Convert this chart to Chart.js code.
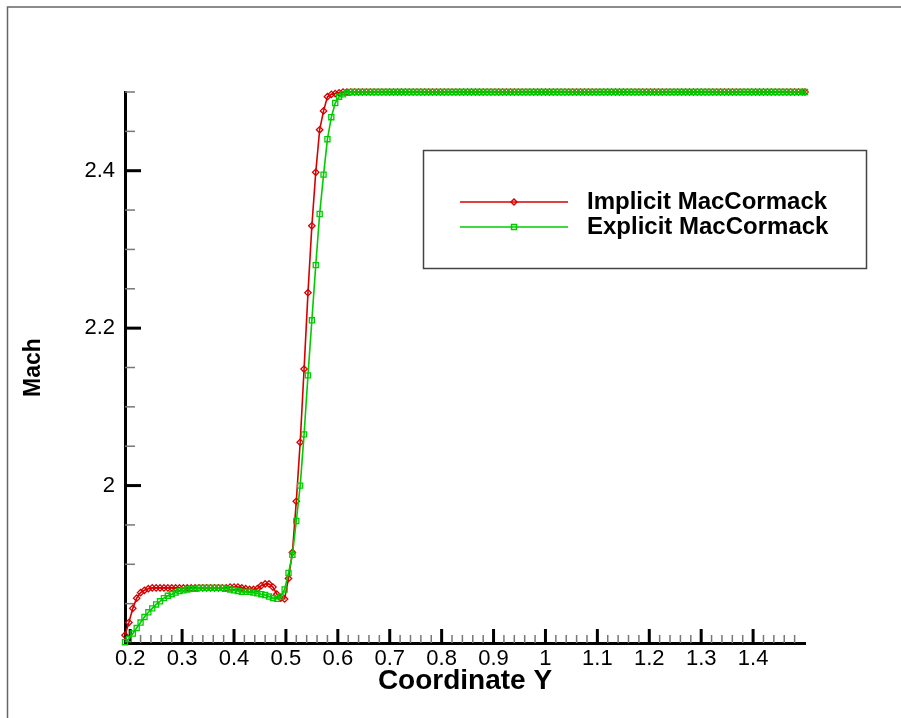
<!DOCTYPE html>
<html>
<head>
<meta charset="utf-8">
<script src="https://cdn.jsdelivr.net/npm/chart.js@4/dist/chart.umd.min.js"></script>
<style>
  body { margin: 0; background: #fff; }
  canvas { display: block; }
</style>
</head>
<body>
<canvas id="graphique-mach" width="901" height="718"></canvas>
<script>
// Abscisses (Coordinate Y), un point toutes les 0.0075 environ
const coordY = [
  0.19, 0.1975, 0.205, 0.2125,
  0.22, 0.2275, 0.235, 0.2425,
  0.25, 0.2575, 0.265, 0.2725,
  0.28, 0.2875, 0.295, 0.3025,
  0.31, 0.3175, 0.325, 0.3325,
  0.34, 0.3475, 0.355, 0.3625,
  0.37, 0.3775, 0.385, 0.3925,
  0.40, 0.4075, 0.415, 0.4225,
  0.43, 0.4375, 0.445, 0.4525,
  0.46, 0.4675, 0.475, 0.4825,
  0.49, 0.4975, 0.505, 0.5125,
  0.52, 0.5275, 0.535, 0.5425,
  0.55, 0.5575, 0.565, 0.5725,
  0.58, 0.5875, 0.595, 0.6025,
  0.61, 0.6175, 0.625, 0.6325,
  0.64, 0.6475, 0.655, 0.6625,
  0.67, 0.6775, 0.685, 0.6925,
  0.70, 0.7075, 0.715, 0.7225,
  0.73, 0.7375, 0.745, 0.7525,
  0.76, 0.7675, 0.775, 0.7825,
  0.79, 0.7975, 0.805, 0.8125,
  0.82, 0.8275, 0.835, 0.8425,
  0.85, 0.8575, 0.865, 0.8725,
  0.88, 0.8875, 0.895, 0.9025,
  0.91, 0.9175, 0.925, 0.9325,
  0.94, 0.9475, 0.955, 0.9625,
  0.97, 0.9775, 0.985, 0.9925,
  1.00, 1.0075, 1.015, 1.0225,
  1.03, 1.0375, 1.045, 1.0525,
  1.06, 1.0675, 1.075, 1.0825,
  1.09, 1.0975, 1.105, 1.1125,
  1.12, 1.1275, 1.135, 1.1425,
  1.15, 1.1575, 1.165, 1.1725,
  1.18, 1.1875, 1.195, 1.2025,
  1.21, 1.2175, 1.225, 1.2325,
  1.24, 1.2475, 1.255, 1.2625,
  1.27, 1.2775, 1.285, 1.2925,
  1.30, 1.3075, 1.315, 1.3225,
  1.33, 1.3375, 1.345, 1.3525,
  1.36, 1.3675, 1.375, 1.3825,
  1.39, 1.3975, 1.405, 1.4125,
  1.42, 1.4275, 1.435, 1.4425,
  1.45, 1.4575, 1.465, 1.4725,
  1.48, 1.4875, 1.495, 1.50
];

// Mach - schéma implicite (rouge)
const machImplicit = [
  1.810, 1.826, 1.844, 1.857,
  1.864, 1.867, 1.869, 1.870,
  1.870, 1.870, 1.870, 1.870,
  1.870, 1.870, 1.870, 1.870,
  1.870, 1.870, 1.870, 1.870,
  1.870, 1.870, 1.870, 1.870,
  1.870, 1.870, 1.870, 1.871,
  1.871, 1.871, 1.870, 1.869,
  1.868, 1.868, 1.869, 1.873,
  1.875, 1.875, 1.871, 1.862,
  1.857, 1.856, 1.882, 1.915,
  1.980, 2.055, 2.148, 2.245,
  2.330, 2.398, 2.452, 2.476,
  2.494, 2.497, 2.498, 2.499,
  2.5, 2.5, 2.5, 2.5,
  2.5, 2.5, 2.5, 2.5,
  2.5, 2.5, 2.5, 2.5,
  2.5, 2.5, 2.5, 2.5,
  2.5, 2.5, 2.5, 2.5,
  2.5, 2.5, 2.5, 2.5,
  2.5, 2.5, 2.5, 2.5,
  2.5, 2.5, 2.5, 2.5,
  2.5, 2.5, 2.5, 2.5,
  2.5, 2.5, 2.5, 2.5,
  2.5, 2.5, 2.5, 2.5,
  2.5, 2.5, 2.5, 2.5,
  2.5, 2.5, 2.5, 2.5,
  2.5, 2.5, 2.5, 2.5,
  2.5, 2.5, 2.5, 2.5,
  2.5, 2.5, 2.5, 2.5,
  2.5, 2.5, 2.5, 2.5,
  2.5, 2.5, 2.5, 2.5,
  2.5, 2.5, 2.5, 2.5,
  2.5, 2.5, 2.5, 2.5,
  2.5, 2.5, 2.5, 2.5,
  2.5, 2.5, 2.5, 2.5,
  2.5, 2.5, 2.5, 2.5,
  2.5, 2.5, 2.5, 2.5,
  2.5, 2.5, 2.5, 2.5,
  2.5, 2.5, 2.5, 2.5,
  2.5, 2.5, 2.5, 2.5,
  2.5, 2.5, 2.5, 2.5,
  2.5, 2.5, 2.5, 2.5,
  2.5, 2.5, 2.5, 2.5
];

// Mach - schéma explicite (vert)
const machExplicit = [
  1.801, 1.805, 1.812, 1.819,
  1.826, 1.833, 1.839, 1.844,
  1.849, 1.853, 1.857, 1.860,
  1.862, 1.864, 1.866, 1.867,
  1.868, 1.869, 1.869, 1.870,
  1.870, 1.870, 1.870, 1.870,
  1.870, 1.870, 1.869, 1.868,
  1.867, 1.866, 1.865, 1.865,
  1.865, 1.864, 1.863, 1.862,
  1.861, 1.859, 1.857, 1.856,
  1.859, 1.868, 1.889, 1.912,
  1.955, 2.000, 2.065, 2.140,
  2.210, 2.280, 2.345, 2.395,
  2.440, 2.468, 2.486, 2.494,
  2.497, 2.499, 2.5, 2.5,
  2.5, 2.5, 2.5, 2.5,
  2.5, 2.5, 2.5, 2.5,
  2.5, 2.5, 2.5, 2.5,
  2.5, 2.5, 2.5, 2.5,
  2.5, 2.5, 2.5, 2.5,
  2.5, 2.5, 2.5, 2.5,
  2.5, 2.5, 2.5, 2.5,
  2.5, 2.5, 2.5, 2.5,
  2.5, 2.5, 2.5, 2.5,
  2.5, 2.5, 2.5, 2.5,
  2.5, 2.5, 2.5, 2.5,
  2.5, 2.5, 2.5, 2.5,
  2.5, 2.5, 2.5, 2.5,
  2.5, 2.5, 2.5, 2.5,
  2.5, 2.5, 2.5, 2.5,
  2.5, 2.5, 2.5, 2.5,
  2.5, 2.5, 2.5, 2.5,
  2.5, 2.5, 2.5, 2.5,
  2.5, 2.5, 2.5, 2.5,
  2.5, 2.5, 2.5, 2.5,
  2.5, 2.5, 2.5, 2.5,
  2.5, 2.5, 2.5, 2.5,
  2.5, 2.5, 2.5, 2.5,
  2.5, 2.5, 2.5, 2.5,
  2.5, 2.5, 2.5, 2.5,
  2.5, 2.5, 2.5, 2.5,
  2.5, 2.5, 2.5, 2.5,
  2.5, 2.5, 2.5, 2.5,
  2.5, 2.5, 2.5, 2.5
];

// Graduations
const xTicks = [0.2, 0.3, 0.4, 0.5, 0.6, 0.7, 0.8, 0.9, 1.0, 1.1, 1.2, 1.3, 1.4];
const yTicks = [2.0, 2.2, 2.4];

const ROUGE = "rgb(214, 0, 0)";
const VERT = "rgb(0, 204, 0)";

// Petites graduations tournées vers l'intérieur + cadre
const graduations = {
	id: "graduations",
	beforeDatasetsDraw(chart) {
		const ctx = chart.ctx;
		const x = chart.scales.x;
		const y = chart.scales.y;
		const bas = chart.chartArea.bottom;
		const gauche = chart.chartArea.left;
		ctx.save();
		// axe X : tous les 0.02
		for (let k = 0; k <= 64; k++) {
			const px = x.getPixelForValue(0.2 + 0.02 * k);
			const major = k % 5 === 0;
			ctx.beginPath();
			ctx.strokeStyle = major ? "#000" : "#777";
			ctx.lineWidth = major ? 3 : 1.5;
			ctx.moveTo(px, bas);
			ctx.lineTo(px, bas - (major ? 14 : 8));
			ctx.stroke();
		}
		// axe Y : tous les 0.05
		for (let k = 1; k <= 14; k++) {
			const py = y.getPixelForValue(1.8 + 0.05 * k);
			const major = k % 4 === 0;
			ctx.beginPath();
			ctx.strokeStyle = major ? "#000" : "#777";
			ctx.lineWidth = major ? 3 : 1.5;
			ctx.moveTo(gauche, py);
			ctx.lineTo(gauche + (major ? 16 : 10), py);
			ctx.stroke();
		}
		ctx.restore();
	},
	afterDraw(chart) {
		const ctx = chart.ctx;
		ctx.save();
		// cadre extérieur (haut et gauche seulement visibles)
		ctx.strokeStyle = "#666";
		ctx.lineWidth = 1.5;
		ctx.beginPath();
		ctx.moveTo(7.5, 718);
		ctx.lineTo(7.5, 7);
		ctx.lineTo(901, 7);
		ctx.stroke();

		// légende encadrée
		ctx.strokeStyle = "#444";
		ctx.lineWidth = 1.5;
		ctx.strokeRect(423.5, 150.5, 443, 118);
		chart.data.datasets.forEach((ds, i) => {
			const ly = 202 + 25 * i;
			ctx.strokeStyle = ds.borderColor;
			ctx.lineWidth = 1.5;
			ctx.beginPath();
			ctx.moveTo(460, ly);
			ctx.lineTo(568, ly);
			ctx.stroke();
			ctx.beginPath();
			if (ds.pointStyle === "rectRot") {
				ctx.moveTo(514, ly - 3);
				ctx.lineTo(517, ly);
				ctx.lineTo(514, ly + 3);
				ctx.lineTo(511, ly);
				ctx.closePath();
			} else {
				ctx.rect(511.5, ly - 2.5, 5, 5);
			}
			ctx.stroke();
			ctx.fillStyle = "#000";
			ctx.font = "bold 24px 'Liberation Sans', Arial, sans-serif";
			ctx.textBaseline = "middle";
			ctx.textAlign = "left";
			ctx.fillText(ds.label, 587, ly);
		});
		ctx.restore();
	}
};

const data = {
	datasets: [
		{
			label: "Implicit MacCormack",
			data: coordY.map((v, i) => ({ x: v, y: machImplicit[i] })),
			borderColor: ROUGE,
			borderWidth: 1.6,
			pointStyle: "rectRot",
			pointRadius: 3.2,
			pointBorderWidth: 1.3,
			pointBorderColor: ROUGE,
			pointBackgroundColor: "rgba(255,255,255,0)",
			clip: false,
			order: 1
		},
		{
			label: "Explicit MacCormack",
			data: coordY.map((v, i) => ({ x: v, y: machExplicit[i] })),
			borderColor: VERT,
			borderWidth: 1.6,
			pointStyle: "rect",
			pointRadius: 3.6,
			pointBorderWidth: 1.3,
			pointBorderColor: VERT,
			pointBackgroundColor: "rgba(255,255,255,0)",
			clip: false,
			order: 0
		}
	]
};

const config = {
	type: "line",
	data: data,
	options: {
		responsive: false,
		animation: false,
		events: [],
		layout: { padding: { left: 0, right: 96, top: 92, bottom: 0 } },
		plugins: { legend: { display: false }, tooltip: { enabled: false } },
		scales: {
			x: {
				type: "linear",
				min: 0.19,
				max: 1.5,
				afterBuildTicks: (scale) => { scale.ticks = xTicks.map(v => ({ value: v })); },
				afterFit: (scale) => { scale.height = 75; },
				grid: { display: false, drawTicks: false },
				border: { display: true, color: "#000", width: 3 },
				ticks: {
					color: "#000",
					padding: 3,
					maxRotation: 0,
					autoSkip: false,
					font: { family: "'Liberation Sans', Arial, sans-serif", size: 22 },
					callback: (v) => String(Math.round(v * 10) / 10)
				},
				title: {
					display: true,
					text: "Coordinate Y",
					color: "#000",
					font: { family: "'Liberation Sans', Arial, sans-serif", size: 28, weight: "bold" },
					padding: { top: 0, bottom: 20 }
				}
			},
			y: {
				type: "linear",
				min: 1.8,
				max: 2.5,
				afterBuildTicks: (scale) => { scale.ticks = yTicks.map(v => ({ value: v })); },
				afterFit: (scale) => { scale.width = 125; },
				grid: { display: false, drawTicks: false },
				border: { display: true, color: "#000", width: 3 },
				ticks: {
					color: "#000",
					padding: 10,
					autoSkip: false,
					font: { family: "'Liberation Sans', Arial, sans-serif", size: 22 },
					callback: (v) => String(Math.round(v * 10) / 10)
				},
				title: {
					display: true,
					text: "Mach",
					color: "#000",
					font: { family: "'Liberation Sans', Arial, sans-serif", size: 23, weight: "bold" },
					padding: { top: 20, bottom: 0 }
				}
			}
		}
	},
	plugins: [graduations]
};

new Chart(document.querySelector("#graphique-mach"), config);
</script>
</body>
</html>
